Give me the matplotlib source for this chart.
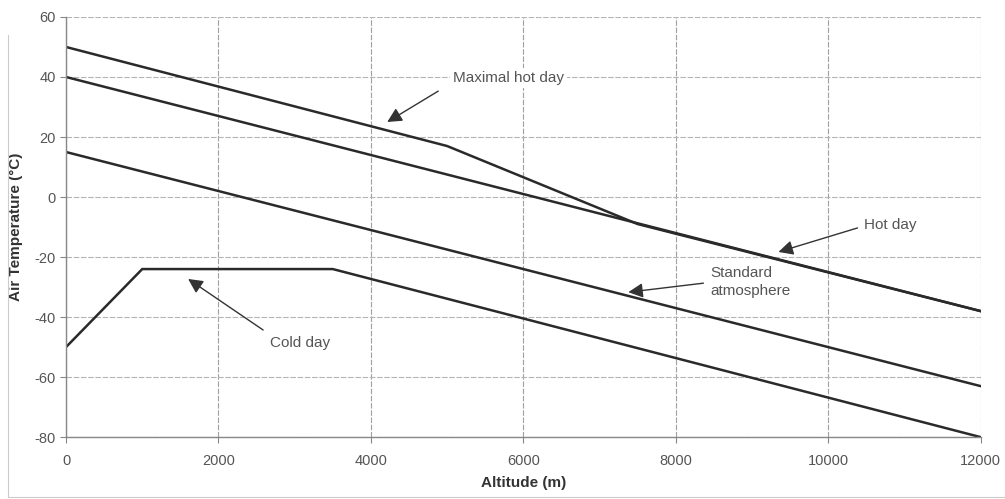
import matplotlib.pyplot as plt
from matplotlib.lines import Line2D

plt.rcParams['font.family'] = ['Liberation Sans', 'DejaVu Sans']
plt.rcParams['axes.unicode_minus'] = False

# data (altitude m, temperature C)
alt_max_hot = [0, 5000, 7500, 12000]
temp_max_hot = [50, 17, -9, -38]
alt_hot = [0, 12000]
temp_hot = [40, -38]
alt_std = [0, 12000]
temp_std = [15, -63]
alt_cold = [0, 1000, 3500, 12000]
temp_cold = [-50, -24, -24, -80]

x_ticks = [0, 2000, 4000, 6000, 8000, 10000, 12000]
y_ticks = [-80, -60, -40, -20, 0, 20, 40, 60]

fig = plt.figure(figsize=(10.05, 4.99), dpi=100)
ax = fig.add_axes([0.0657, 0.124, 0.910, 0.842])

line_kw = dict(color='#2a2a2a', lw=1.8, solid_joinstyle='miter')
ax.plot(alt_max_hot, temp_max_hot, **line_kw)
ax.plot(alt_hot, temp_hot, **line_kw)
ax.plot(alt_std, temp_std, **line_kw)
ax.plot(alt_cold, temp_cold, **line_kw)

ax.set_xlim(0, 12000)
ax.set_ylim(-80, 60)
ax.set_xticks(x_ticks)
ax.set_yticks(y_ticks)
ax.grid(True, axis='y', color='#b5b5b5', lw=0.8, linestyle=(0, (5, 1.5)))
ax.grid(True, axis='x', color='#a0a0a0', lw=0.8, linestyle=(0, (5, 1.5)))
ax.set_axisbelow(True)

for s in ['top', 'right']:
    ax.spines[s].set_visible(False)
for s in ['left', 'bottom']:
    ax.spines[s].set_color('#888888')
    ax.spines[s].set_linewidth(1.0)

ax.tick_params(axis='both', colors='#888888', labelcolor='#555555',
               labelsize=10.5, length=4, width=0.8)
ax.tick_params(axis='x', pad=8)

ax.set_xlabel('Altitude (m)', fontsize=11, fontweight='bold', color='#333333', labelpad=6)
ax.set_ylabel('Air Temperature (°C)', fontsize=11, fontweight='bold', color='#333333', labelpad=8)

# annotations
arrow_kw = dict(arrowstyle='-|>', color='#333333', lw=1.0, mutation_scale=22,
                shrinkA=0, shrinkB=0)
txt_kw = dict(fontsize=11, color='#555555')

ax.text(5803, 39.7, 'Maximal hot day', ha='center', va='center',
        bbox=dict(facecolor='white', edgecolor='none', pad=2), **txt_kw)
ax.annotate('', xy=(4214, 25), xytext=(4884, 35.3), arrowprops=arrow_kw)

ax.text(10811, -9.3, 'Hot day', ha='center', va='center', **txt_kw)
ax.annotate('', xy=(9348, -18.3), xytext=(10385, -10.3), arrowprops=arrow_kw)

ax.text(8455, -28.3, 'Standard\natmosphere', ha='left', va='center',
        linespacing=1.3, **txt_kw)
ax.annotate('', xy=(7378, -31.7), xytext=(8363, -28.7), arrowprops=arrow_kw)

ax.text(3072, -48.7, 'Cold day', ha='center', va='center', **txt_kw)
ax.annotate('', xy=(1602, -27.3), xytext=(2586, -44.3), arrowprops=arrow_kw)

# faint frame of the scanned figure
fig.add_artist(Line2D([0.008, 0.008], [0.005, 0.93], color='#cccccc', lw=0.8))
fig.add_artist(Line2D([0.008, 1.0], [0.005, 0.005], color='#cccccc', lw=0.8))

fig.savefig('out.png', dpi=100)
